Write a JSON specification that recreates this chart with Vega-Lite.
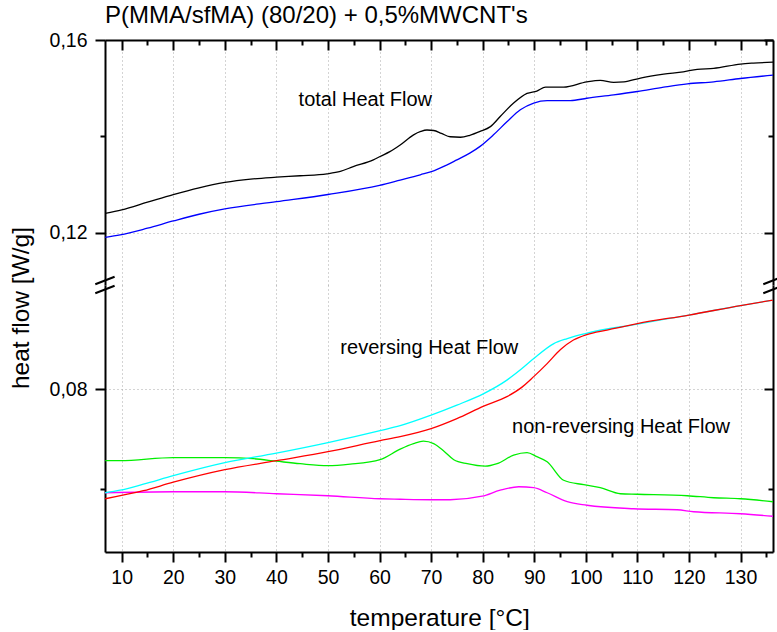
{
  "$schema": "https://vega.github.io/schema/vega-lite/v6.json",
  "background": "white",
  "padding": {"left": 8, "top": 4, "right": 0, "bottom": 0},
  "spacing": 0,
  "bounds": "flush",
  "resolve": {"scale": {"color": "independent"}},
  "config": {
    "view": {"stroke": null},
    "font": "Liberation Sans",
    "axis": {
      "domainColor": "black", "domainWidth": 2, "tickColor": "black", "tickWidth": 2,
      "labelFont": "Liberation Sans", "labelFontSize": 19.5, "labelColor": "black", "labelOverlap": false, "labelFlush": false,
      "titleFont": "Liberation Sans", "titleFontSize": 24.5, "titleFontWeight": "normal", "titleColor": "black",
      "gridColor": "#a8a8a8", "gridDash": [1, 3], "gridWidth": 1
    },
    "title": {"font": "Liberation Sans", "fontSize": 24, "fontWeight": "normal", "color": "black"}
  },
  "datasets": {
    "hf": [
      {"series": "total 1", "T": 6.8, "hf": 0.1240},
      {"series": "total 1", "T": 10, "hf": 0.1247},
      {"series": "total 1", "T": 15, "hf": 0.1263},
      {"series": "total 1", "T": 20, "hf": 0.1279},
      {"series": "total 1", "T": 25, "hf": 0.1293},
      {"series": "total 1", "T": 30, "hf": 0.1304},
      {"series": "total 1", "T": 35, "hf": 0.1311},
      {"series": "total 1", "T": 40, "hf": 0.1315},
      {"series": "total 1", "T": 44.6, "hf": 0.1318},
      {"series": "total 1", "T": 49.8, "hf": 0.1322},
      {"series": "total 1", "T": 52.4, "hf": 0.1327},
      {"series": "total 1", "T": 54.9, "hf": 0.1337},
      {"series": "total 1", "T": 58.8, "hf": 0.1351},
      {"series": "total 1", "T": 60.1, "hf": 0.1358},
      {"series": "total 1", "T": 62, "hf": 0.1368},
      {"series": "total 1", "T": 64, "hf": 0.1382},
      {"series": "total 1", "T": 66.6, "hf": 0.1403},
      {"series": "total 1", "T": 68, "hf": 0.1410},
      {"series": "total 1", "T": 69.2, "hf": 0.1413},
      {"series": "total 1", "T": 70.5, "hf": 0.1412},
      {"series": "total 1", "T": 72, "hf": 0.1406},
      {"series": "total 1", "T": 73.7, "hf": 0.1399},
      {"series": "total 1", "T": 75.7, "hf": 0.1398},
      {"series": "total 1", "T": 77.5, "hf": 0.1402},
      {"series": "total 1", "T": 79.5, "hf": 0.1410},
      {"series": "total 1", "T": 81.5, "hf": 0.1420},
      {"series": "total 1", "T": 83.4, "hf": 0.1441},
      {"series": "total 1", "T": 86, "hf": 0.1469},
      {"series": "total 1", "T": 88.6, "hf": 0.1489},
      {"series": "total 1", "T": 90.5, "hf": 0.1494},
      {"series": "total 1", "T": 92.2, "hf": 0.1502},
      {"series": "total 1", "T": 95.7, "hf": 0.1502},
      {"series": "total 1", "T": 100.2, "hf": 0.1513},
      {"series": "total 1", "T": 102.8, "hf": 0.1516},
      {"series": "total 1", "T": 105.4, "hf": 0.1512},
      {"series": "total 1", "T": 107.4, "hf": 0.1513},
      {"series": "total 1", "T": 110.6, "hf": 0.1521},
      {"series": "total 1", "T": 115.1, "hf": 0.1529},
      {"series": "total 1", "T": 118.9, "hf": 0.1534},
      {"series": "total 1", "T": 121.6, "hf": 0.1539},
      {"series": "total 1", "T": 124.8, "hf": 0.1541},
      {"series": "total 1", "T": 130, "hf": 0.1550},
      {"series": "total 1", "T": 132.5, "hf": 0.1552},
      {"series": "total 1", "T": 136.3, "hf": 0.1554},
      {"series": "total 2", "T": 6.8, "hf": 0.1190},
      {"series": "total 2", "T": 9.7, "hf": 0.1195},
      {"series": "total 2", "T": 15, "hf": 0.1209},
      {"series": "total 2", "T": 20, "hf": 0.1224},
      {"series": "total 2", "T": 25, "hf": 0.1238},
      {"series": "total 2", "T": 30, "hf": 0.1249},
      {"series": "total 2", "T": 40, "hf": 0.1264},
      {"series": "total 2", "T": 50, "hf": 0.1279},
      {"series": "total 2", "T": 60, "hf": 0.1298},
      {"series": "total 2", "T": 64, "hf": 0.1309},
      {"series": "total 2", "T": 67.9, "hf": 0.1320},
      {"series": "total 2", "T": 70.5, "hf": 0.1328},
      {"series": "total 2", "T": 73, "hf": 0.1340},
      {"series": "total 2", "T": 75, "hf": 0.1351},
      {"series": "total 2", "T": 77.5, "hf": 0.1365},
      {"series": "total 2", "T": 79.5, "hf": 0.1379},
      {"series": "total 2", "T": 82.1, "hf": 0.1403},
      {"series": "total 2", "T": 84.7, "hf": 0.1430},
      {"series": "total 2", "T": 87.3, "hf": 0.1455},
      {"series": "total 2", "T": 89.9, "hf": 0.1469},
      {"series": "total 2", "T": 92.5, "hf": 0.1474},
      {"series": "total 2", "T": 97, "hf": 0.1474},
      {"series": "total 2", "T": 100.2, "hf": 0.1479},
      {"series": "total 2", "T": 105.4, "hf": 0.1486},
      {"series": "total 2", "T": 110, "hf": 0.1493},
      {"series": "total 2", "T": 115.1, "hf": 0.1502},
      {"series": "total 2", "T": 119.7, "hf": 0.1509},
      {"series": "total 2", "T": 124.8, "hf": 0.1513},
      {"series": "total 2", "T": 130, "hf": 0.1520},
      {"series": "total 2", "T": 136.3, "hf": 0.1527},
      {"series": "nonrev 1", "T": 6.8, "hf": 0.0657},
      {"series": "nonrev 1", "T": 9.7, "hf": 0.0657},
      {"series": "nonrev 1", "T": 20, "hf": 0.0663},
      {"series": "nonrev 1", "T": 30, "hf": 0.0663},
      {"series": "nonrev 1", "T": 35.5, "hf": 0.0661},
      {"series": "nonrev 1", "T": 40, "hf": 0.0656},
      {"series": "nonrev 1", "T": 44.6, "hf": 0.0651},
      {"series": "nonrev 1", "T": 50, "hf": 0.0647},
      {"series": "nonrev 1", "T": 54.3, "hf": 0.0650},
      {"series": "nonrev 1", "T": 60.1, "hf": 0.0659},
      {"series": "nonrev 1", "T": 64, "hf": 0.0680},
      {"series": "nonrev 1", "T": 66.6, "hf": 0.0691},
      {"series": "nonrev 1", "T": 68.5, "hf": 0.0696},
      {"series": "nonrev 1", "T": 70.5, "hf": 0.0691},
      {"series": "nonrev 1", "T": 72.5, "hf": 0.0676},
      {"series": "nonrev 1", "T": 74.4, "hf": 0.0659},
      {"series": "nonrev 1", "T": 77, "hf": 0.0651},
      {"series": "nonrev 1", "T": 80.5, "hf": 0.0646},
      {"series": "nonrev 1", "T": 82.8, "hf": 0.0651},
      {"series": "nonrev 1", "T": 86, "hf": 0.0668},
      {"series": "nonrev 1", "T": 88.6, "hf": 0.0673},
      {"series": "nonrev 1", "T": 90.5, "hf": 0.0665},
      {"series": "nonrev 1", "T": 92.5, "hf": 0.0655},
      {"series": "nonrev 1", "T": 95.7, "hf": 0.0618},
      {"series": "nonrev 1", "T": 99.6, "hf": 0.0609},
      {"series": "nonrev 1", "T": 102.8, "hf": 0.0603},
      {"series": "nonrev 1", "T": 106.7, "hf": 0.0591},
      {"series": "nonrev 1", "T": 110, "hf": 0.0590},
      {"series": "nonrev 1", "T": 119.7, "hf": 0.0587},
      {"series": "nonrev 1", "T": 124.8, "hf": 0.0583},
      {"series": "nonrev 1", "T": 130, "hf": 0.0581},
      {"series": "nonrev 1", "T": 136.3, "hf": 0.0575},
      {"series": "nonrev 2", "T": 6.8, "hf": 0.0593},
      {"series": "nonrev 2", "T": 20, "hf": 0.0595},
      {"series": "nonrev 2", "T": 30, "hf": 0.0595},
      {"series": "nonrev 2", "T": 40, "hf": 0.0591},
      {"series": "nonrev 2", "T": 50, "hf": 0.0587},
      {"series": "nonrev 2", "T": 60.1, "hf": 0.0581},
      {"series": "nonrev 2", "T": 64, "hf": 0.0580},
      {"series": "nonrev 2", "T": 70, "hf": 0.0579},
      {"series": "nonrev 2", "T": 73.7, "hf": 0.0579},
      {"series": "nonrev 2", "T": 79.9, "hf": 0.0586},
      {"series": "nonrev 2", "T": 83.4, "hf": 0.0598},
      {"series": "nonrev 2", "T": 87, "hf": 0.0605},
      {"series": "nonrev 2", "T": 89.9, "hf": 0.0603},
      {"series": "nonrev 2", "T": 92.5, "hf": 0.0593},
      {"series": "nonrev 2", "T": 96.4, "hf": 0.0575},
      {"series": "nonrev 2", "T": 100.2, "hf": 0.0568},
      {"series": "nonrev 2", "T": 109.3, "hf": 0.0561},
      {"series": "nonrev 2", "T": 117.7, "hf": 0.0559},
      {"series": "nonrev 2", "T": 120.9, "hf": 0.0555},
      {"series": "nonrev 2", "T": 130, "hf": 0.0551},
      {"series": "nonrev 2", "T": 136.3, "hf": 0.0546},
      {"series": "rev 1", "T": 6.8, "hf": 0.0593},
      {"series": "rev 1", "T": 9.7, "hf": 0.0598},
      {"series": "rev 1", "T": 14.2, "hf": 0.0610},
      {"series": "rev 1", "T": 20, "hf": 0.0627},
      {"series": "rev 1", "T": 30, "hf": 0.0653},
      {"series": "rev 1", "T": 40, "hf": 0.0672},
      {"series": "rev 1", "T": 50, "hf": 0.0693},
      {"series": "rev 1", "T": 60.1, "hf": 0.0717},
      {"series": "rev 1", "T": 64, "hf": 0.0727},
      {"series": "rev 1", "T": 70, "hf": 0.0748},
      {"series": "rev 1", "T": 75, "hf": 0.0768},
      {"series": "rev 1", "T": 80.2, "hf": 0.0791},
      {"series": "rev 1", "T": 84.7, "hf": 0.0818},
      {"series": "rev 1", "T": 87.5, "hf": 0.0840},
      {"series": "rev 1", "T": 89.9, "hf": 0.0861},
      {"series": "rev 1", "T": 93.8, "hf": 0.0891},
      {"series": "rev 1", "T": 96.4, "hf": 0.0901},
      {"series": "rev 1", "T": 99.9, "hf": 0.0911},
      {"series": "rev 1", "T": 110, "hf": 0.0930},
      {"series": "rev 1", "T": 120, "hf": 0.0948},
      {"series": "rev 1", "T": 130, "hf": 0.0967},
      {"series": "rev 1", "T": 136.3, "hf": 0.0978},
      {"series": "rev 2", "T": 6.8, "hf": 0.0581},
      {"series": "rev 2", "T": 14.2, "hf": 0.0597},
      {"series": "rev 2", "T": 20, "hf": 0.0614},
      {"series": "rev 2", "T": 30, "hf": 0.0639},
      {"series": "rev 2", "T": 40, "hf": 0.0657},
      {"series": "rev 2", "T": 50, "hf": 0.0675},
      {"series": "rev 2", "T": 60.1, "hf": 0.0697},
      {"series": "rev 2", "T": 64, "hf": 0.0705},
      {"series": "rev 2", "T": 70, "hf": 0.0721},
      {"series": "rev 2", "T": 75, "hf": 0.0741},
      {"series": "rev 2", "T": 80.2, "hf": 0.0766},
      {"series": "rev 2", "T": 84.7, "hf": 0.0785},
      {"series": "rev 2", "T": 87.5, "hf": 0.0803},
      {"series": "rev 2", "T": 89.9, "hf": 0.0825},
      {"series": "rev 2", "T": 92.5, "hf": 0.0851},
      {"series": "rev 2", "T": 95.1, "hf": 0.0879},
      {"series": "rev 2", "T": 97.6, "hf": 0.0898},
      {"series": "rev 2", "T": 100.2, "hf": 0.0909},
      {"series": "rev 2", "T": 104.1, "hf": 0.0918},
      {"series": "rev 2", "T": 110, "hf": 0.0931},
      {"series": "rev 2", "T": 120, "hf": 0.0948},
      {"series": "rev 2", "T": 130, "hf": 0.0967},
      {"series": "rev 2", "T": 136.3, "hf": 0.0978}
    ]
  },
  "vconcat": [
    {
      "width": 668,
      "height": 245,
      "title": {"text": "P(MMA/sfMA) (80/20) + 0,5%MWCNT's", "anchor": "start", "frame": "group", "offset": 2},
      "resolve": {"axis": {"x": "independent", "y": "independent"}},
      "layer": [
        {
          "data": {"name": "hf"},
          "transform": [{"filter": "datum.series === 'total 1' || datum.series === 'total 2'"}],
          "mark": {"type": "line", "strokeWidth": 1.3, "interpolate": "monotone", "clip": true},
          "encoding": {
            "x": {
              "field": "T", "type": "quantitative",
              "scale": {"domain": [6.76, 136.3], "nice": false, "zero": false},
              "axis": {
                "orient": "top", "title": null, "labels": false,
                "values": [10, 15, 20, 25, 30, 35, 40, 45, 50, 55, 60, 65, 70, 75, 80, 85, 90, 95, 100, 105, 110, 115, 120, 125, 130, 135],
                "tickSize": {"condition": {"test": "datum.value % 10 === 0", "value": -10}, "value": -5},
                "grid": true,
                "gridOpacity": {"condition": {"test": "datum.value % 10 === 0", "value": 1}, "value": 0}
              }
            },
            "y": {
              "field": "hf", "type": "quantitative",
              "scale": {"domain": [0.1091, 0.16], "nice": false, "zero": false},
              "axis": {
                "orient": "left", "title": null,
                "values": [0.12, 0.14, 0.16],
                "labelExpr": "abs(datum.value - 0.14) < 0.001 ? '' : replace(format(datum.value, '.2f'), '.', ',')",
                "tickSize": {"condition": {"test": "abs(datum.value - 0.14) < 0.001", "value": 5}, "value": 10},
                "labelPadding": 8,
                "grid": true,
                "gridOpacity": {"condition": {"test": "abs(datum.value - 0.14) < 0.001", "value": 0}, "value": 1}
              }
            },
            "color": {
              "field": "series", "type": "nominal",
              "scale": {"domain": ["total 1", "total 2"], "range": ["#000000", "#0000ff"]},
              "legend": null
            }
          }
        },
        {
          "data": {"values": [{"label": "total Heat Flow"}]},
          "mark": {"type": "text", "align": "left", "baseline": "alphabetic", "fontSize": 20, "font": "Liberation Sans", "color": "black"},
          "encoding": {
            "text": {"field": "label"},
            "x": {"datum": 44.3, "type": "quantitative", "scale": {"domain": [6.76, 136.3], "nice": false, "zero": false}, "axis": null},
            "y": {
              "datum": 0.1462, "type": "quantitative",
              "scale": {"domain": [0.1091, 0.16], "nice": false, "zero": false},
              "axis": {
                "orient": "right", "title": null, "labels": false, "grid": false,
                "values": [0.12, 0.14, 0.16],
                "tickSize": {"condition": {"test": "abs(datum.value - 0.14) < 0.001", "value": -5}, "value": -9}
              }
            }
          }
        }
      ]
    },
    {
      "width": 668,
      "height": 267,
      "resolve": {"axis": {"x": "independent", "y": "independent"}},
      "layer": [
        {
          "data": {"name": "hf"},
          "transform": [{"filter": "datum.series !== 'total 1' && datum.series !== 'total 2'"}],
          "mark": {"type": "line", "strokeWidth": 1.3, "interpolate": "monotone", "clip": true},
          "encoding": {
            "x": {
              "field": "T", "type": "quantitative",
              "scale": {"domain": [6.76, 136.3], "nice": false, "zero": false},
              "axis": {
                "orient": "bottom", "title": "temperature [°C]",
                "values": [10, 15, 20, 25, 30, 35, 40, 45, 50, 55, 60, 65, 70, 75, 80, 85, 90, 95, 100, 105, 110, 115, 120, 125, 130, 135],
                "labelExpr": "datum.value % 10 === 0 ? datum.label : ''",
                "tickSize": {"condition": {"test": "datum.value % 10 === 0", "value": 10}, "value": 5},
                "labelPadding": 6,
                "titleX": 334.3, "titleY": 73, "titleBaseline": "alphabetic", "titleAlign": "center",
                "grid": true,
                "gridOpacity": {"condition": {"test": "datum.value % 10 === 0", "value": 1}, "value": 0}
              }
            },
            "y": {
              "field": "hf", "type": "quantitative",
              "scale": {"domain": [0.04746, 0.1008], "nice": false, "zero": false},
              "axis": {
                "orient": "left", "title": "heat flow [W/g]",
                "values": [0.06, 0.08],
                "labelExpr": "abs(datum.value - 0.06) < 0.001 ? '' : replace(format(datum.value, '.2f'), '.', ',')",
                "tickSize": {"condition": {"test": "abs(datum.value - 0.06) < 0.001", "value": 5}, "value": 10},
                "labelPadding": 8,
                "titleX": -76.7, "titleY": 22.5, "titleAngle": 270, "titleBaseline": "alphabetic", "titleAlign": "center",
                "grid": true,
                "gridOpacity": {"condition": {"test": "abs(datum.value - 0.06) < 0.001", "value": 0}, "value": 1}
              }
            },
            "color": {
              "field": "series", "type": "nominal",
              "scale": {"domain": ["nonrev 1", "nonrev 2", "rev 1", "rev 2"], "range": ["#00ee00", "#ff00ff", "#00ffff", "#ff0000"]},
              "legend": null
            }
          }
        },
        {
          "data": {"values": [{"label": "reversing Heat Flow"}]},
          "mark": {"type": "text", "align": "left", "baseline": "alphabetic", "fontSize": 20, "font": "Liberation Sans", "color": "black"},
          "encoding": {
            "text": {"field": "label"},
            "x": {"datum": 52.4, "type": "quantitative", "scale": {"domain": [6.76, 136.3], "nice": false, "zero": false}, "axis": null},
            "y": {
              "datum": 0.0870, "type": "quantitative",
              "scale": {"domain": [0.04746, 0.1008], "nice": false, "zero": false},
              "axis": {
                "orient": "right", "title": null, "labels": false, "grid": false,
                "values": [0.06, 0.08],
                "tickSize": {"condition": {"test": "abs(datum.value - 0.06) < 0.001", "value": -5}, "value": -9}
              }
            }
          }
        },
        {
          "data": {"values": [{"label": "non-reversing Heat Flow"}]},
          "mark": {"type": "text", "align": "left", "baseline": "alphabetic", "fontSize": 20, "font": "Liberation Sans", "color": "black"},
          "encoding": {
            "text": {"field": "label"},
            "x": {"datum": 85.7, "type": "quantitative", "scale": {"domain": [6.76, 136.3], "nice": false, "zero": false}, "axis": null},
            "y": {"datum": 0.0712, "type": "quantitative", "scale": {"domain": [0.04746, 0.1008], "nice": false, "zero": false}, "axis": null}
          }
        },
        {
          "data": {"values": [{"side": "left", "T": 6.76}, {"side": "right", "T": 136.3}]},
          "mark": {"type": "point", "shape": "M-0.97,-0.07L0.96,-0.83M-0.97,0.83L0.96,0.07", "size": 400, "filled": false, "strokeWidth": 2, "color": "black", "opacity": 1},
          "encoding": {
            "x": {"field": "T", "type": "quantitative", "scale": {"domain": [6.76, 136.3], "nice": false, "zero": false}, "axis": null},
            "y": {"datum": 0.1008, "type": "quantitative", "scale": {"domain": [0.04746, 0.1008], "nice": false, "zero": false}, "axis": null}
          }
        }
      ]
    }
  ]
}
